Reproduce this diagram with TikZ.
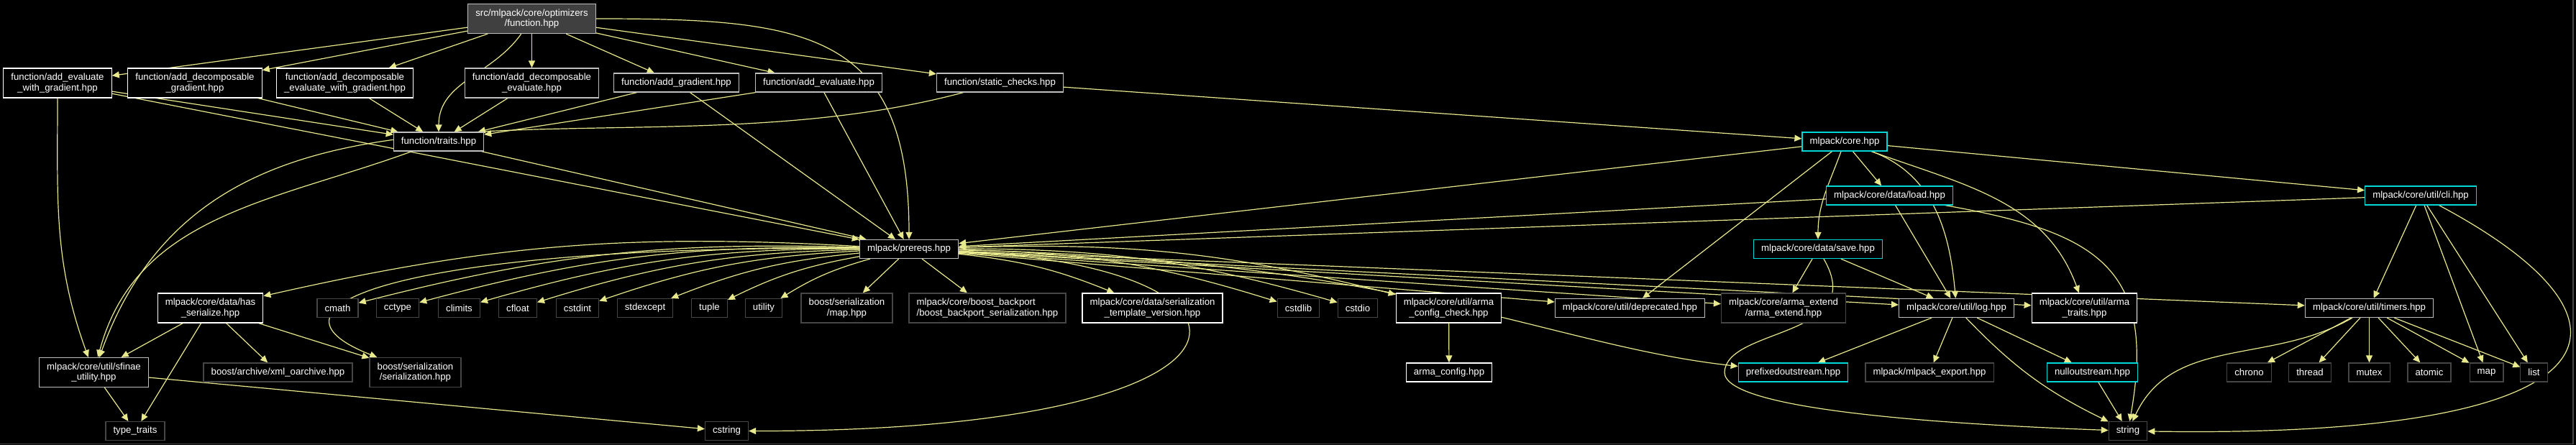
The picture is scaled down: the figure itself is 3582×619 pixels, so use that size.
\documentclass[tikz,border=0pt]{standalone}
\usepackage{fontspec}
\setmainfont{Liberation Sans}
\usetikzlibrary{arrows.meta}
\definecolor{edgecol}{RGB}{232,232,140}
\definecolor{cyanline}{RGB}{0,215,215}
\definecolor{extline}{RGB}{70,70,70}
\definecolor{docgray}{RGB}{191,191,191}
\definecolor{rootfill}{RGB}{64,64,64}
\pgfdeclarelayer{edges}
\pgfsetlayers{edges,main}
\tikzset{
    hdr/.style={draw, fill=black, text=white, line width=0.6pt, inner xsep=5.3pt, inner ysep=1pt,
        minimum height=13pt, font=\fontsize{6.6}{7.3}\selectfont, align=center},
    doc/.style={hdr, draw=white},
    docg/.style={hdr, draw=docgray},
    sys/.style={hdr, draw=extline},
    linked/.style={hdr, draw=cyanline},
    rootfile/.style={hdr, draw=docgray, fill=rootfill},
    tall/.style={minimum height=20.5pt},
    dep/.style={draw=edgecol, line width=0.6pt, -{Triangle[length=5pt,width=4.5pt]}}
}
\begin{document}
\begin{tikzpicture}[x=0.5pt,y=-0.5pt]
                \useasboundingbox (0,0) rectangle (3582,619);
                \node[rootfile, tall] (fn) at (739.5,26) {src/mlpack/core/optimizers\\/function.hpp};
                \node[doc, tall] (aewg) at (80,115.5) {function/add\_evaluate\\\_with\_gradient.hpp};
                \node[doc, tall] (adg) at (271,115.5) {function/add\_decomposable\\\_gradient.hpp};
                \node[doc, tall] (adewg) at (479.5,115.5) {function/add\_decomposable\\\_evaluate\_with\_gradient.hpp};
                \node[docg, tall] (ade) at (739.5,115.5) {function/add\_decomposable\\\_evaluate.hpp};
                \node[docg] (ag) at (940.5,115) {function/add\_gradient.hpp};
                \node[docg] (ae) at (1138.5,115) {function/add\_evaluate.hpp};
                \node[docg] (sc) at (1390.5,115) {function/static\_checks.hpp};
                \node[docg] (traits) at (610,197) {function/traits.hpp};
                \node[linked] (core) at (2565,197) {mlpack/core.hpp};
                \node[linked] (load) at (2627.5,272) {mlpack/core/data/load.hpp};
                \node[linked] (cli) at (3366,272) {mlpack/core/util/cli.hpp};
                \node[docg] (prereqs) at (1264,346.5) {mlpack/prereqs.hpp};
                \node[linked] (save) at (2528,346.5) {mlpack/core/data/save.hpp};
                \node[doc, tall] (hasser) at (292.5,428.5) {mlpack/core/data/has\\\_serialize.hpp};
                \foreach \nm/\px in {cmath/469.5,cctype/553,climits/638.5,cfloat/720,cstdint/803,stdexcept/897,tuple/986.5,utility/1062,cstdlib/1805.5,cstdio/1888}
                    \node[sys] (\nm) at (\px,428.5) {\nm};
                \node[sys, tall] (smap) at (1177.5,428.5) {boost/serialization\\/map.hpp};
                \node[sys, tall, align=left] (backport) at (1373,428.5) {mlpack/core/boost\_backport\\/boost\_backport\_serialization.hpp};
                \node[doc, tall] (stv) at (1602.5,428.5) {mlpack/core/data/serialization\\\_template\_version.hpp};
                \node[doc, tall] (acc) at (2014.5,428.5) {mlpack/core/util/arma\\\_config\_check.hpp};
                \node[docg] (depr) at (2266.5,428.5) {mlpack/core/util/deprecated.hpp};
                \node[sys, tall] (arext) at (2480,428.5) {mlpack/core/arma\_extend\\/arma\_extend.hpp};
                \node[docg] (log) at (2720.5,428.5) {mlpack/core/util/log.hpp};
                \node[doc, tall] (atraits) at (2898.5,428.5) {mlpack/core/util/arma\\\_traits.hpp};
                \node[docg] (timers) at (3294.5,428.5) {mlpack/core/util/timers.hpp};
                \node[docg, tall] (sfinae) at (130.5,518) {mlpack/core/util/sfinae\\\_utility.hpp};
                \node[sys] (xml) at (386.5,518) {boost/archive/xml\_oarchive.hpp};
                \node[sys, tall] (sser) at (577.5,518) {boost/serialization\\/serialization.hpp};
                \node[doc] (aconf) at (2015,518) {arma\_config.hpp};
                \node[linked] (prefixed) at (2493.5,518) {prefixedoutstream.hpp};
                \node[sys] (mexport) at (2683,518) {mlpack/mlpack\_export.hpp};
                \node[linked] (nullout) at (2909.5,518) {nulloutstream.hpp};
                \foreach \nm/\px in {chrono/3127.5,thread/3212,mutex/3294.5,atomic/3378,map/3457.5,list/3523.5}
                    \node[sys] (\nm) at (\px,518) {\nm};
                \node[sys] (ttraits) at (188,599.5) {type\_traits};
                \node[sys] (cstring) at (1010.5,599.5) {cstring};
                \node[sys] (string) at (2959,599.5) {string};
                \begin{pgfonlayer}{edges}
                \fill[black] (0,0) rectangle (3582,619);
                \draw[extline, line width=0.8pt] (3578,0) -- (3578,617.5) -- (0,617.5);
                \foreach \t in {aewg,adg,adewg,ade,ag,ae,sc}
                    \draw[dep] (fn) -- (\t);
                \draw[dep] (fn) to[out=235,in=90] (traits);
                \draw[dep] (fn.east) to[out=0,in=90,looseness=1.4] (prereqs.north);
                \foreach \s in {aewg,adg,adewg,ade,ag,ae}
                    \draw[dep] (\s) -- (traits);
                \foreach \s in {aewg,traits,ag,ae}
                    \draw[dep] (\s) -- (prereqs);
                \draw[dep] (aewg) to[out=270,in=110] (sfinae);
                \draw[dep] (traits) to[out=200,in=75] (sfinae);
                \draw[dep] (sc) to[out=195,in=70] (sfinae);
                \draw[dep] (sc) -- (core);
                \foreach \t in {prereqs,load,cli,depr}
                    \draw[dep] (core) -- (\t);
                \draw[dep] (core) to[out=250,in=90] (save);
                \draw[dep] (core) to[out=340,in=95] (log);
                \draw[dep] (core) to[out=340,in=110] (atraits);
                \draw[dep] (load) -- (prereqs);
                \draw[dep] (load) -- (log);
                \draw[dep] (load) to[out=350,in=80,looseness=1.4] (string);
                \draw[dep] (cli) -- (prereqs);
                \foreach \t in {timers,map,list}
                    \draw[dep] (cli) -- (\t);
                \draw[dep] (cli) .. controls (3700,450) and (3650,610) .. (string);
                \draw[dep] (save) -- (arext);
                \draw[dep] (save) -- (log);
                \draw[dep] (save) .. controls (2600,470) and (2400,455) .. (2398,518) .. controls (2398,570) and (2700,590) .. (string);
                \foreach \t in {hasser,cmath,cctype,climits,cfloat,cstdint,stdexcept,tuple,utility}
                    \draw[dep] (prereqs) to[bend right=8] (\t);
                \foreach \t in {stv,cstdlib,cstdio,acc}
                    \draw[dep] (prereqs) to[bend left=8] (\t);
                \foreach \t in {smap,backport,depr,arext,log,atraits,timers}
                    \draw[dep] (prereqs) -- (\t);
                \draw[dep] (prereqs) .. controls (600,340) and (330,420) .. (sser);
                \draw[dep] (prereqs) .. controls (1800,370) and (1800,600) .. (cstring);
                \draw[dep] (prereqs) .. controls (1950,360) and (2150,480) .. (prefixed);
                \foreach \t in {sfinae,ttraits,xml,sser}
                    \draw[dep] (hasser) -- (\t);
                \draw[dep] (sfinae) -- (ttraits);
                \draw[dep] (sfinae) -- (cstring);
                \draw[dep] (acc) -- (aconf);
                \foreach \t in {prefixed,mexport,nullout}
                    \draw[dep] (log) -- (\t);
                \draw[dep] (log) to[bend right=10] (string);
                \draw[dep] (nullout) -- (string);
                \foreach \t in {chrono,thread,mutex,atomic,map,list}
                    \draw[dep] (timers) -- (\t);
                \draw[dep] (timers) to[out=210,in=65] (string);
                \end{pgfonlayer}
\end{tikzpicture}
\end{document}
